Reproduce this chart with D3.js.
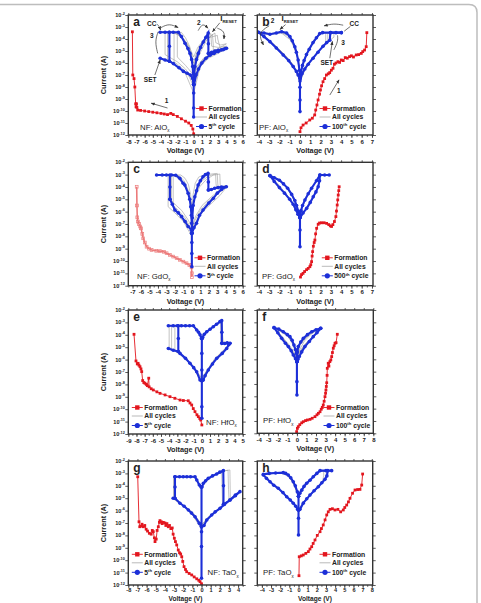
<!DOCTYPE html>
<html>
<head>
<meta charset="utf-8">
<script src="https://cdn.jsdelivr.net/npm/d3@7"></script>
<style>
  body { margin: 0; background: #fff; }
  svg text { font-family: Arial, "Liberation Sans", sans-serif; fill: #222; }
</style>
</head>
<body>
<svg id="chart" width="481" height="603"></svg>
<script>
// all currents are stored as log10(I / A), voltages in V

const yExps = [-2, -3, -4, -5, -6, -7, -8, -9, -10, -11, -12];

// ---- a : NF AlOx
const ticksA = [-8, -7, -6, -5, -4, -3, -2, -1, 0, 1, 2, 3, 4, 5, 6];
const formA = [[-7.5,-3.4],[-7.45,-7.0],[-7.3,-7.3],[-7.2,-8.0],[-7.1,-9.4],[-7.05,-9.65],[-7.0,-9.4],[-6.95,-9.7],[-6.85,-9.92],[-6.5,-9.95],[-6,-10.0],[-5.5,-10.05],[-5,-10.1],[-4.5,-10.15],[-4,-10.2],[-3.6,-10.25],[-3.2,-10.3],[-2.8,-10.2],[-2.5,-10.3],[-2,-10.45],[-1.5,-10.65],[-1,-10.85],[-0.6,-11.0],[-0.3,-11.2],[-0.1,-11.5],[0,-11.9]];
const cycleA = [
  [[0,-7.8],[-0.12,-7.3],[-0.4,-7.0],[-0.8,-6.85],[-1.26,-6.7],[-1.8,-6.4],[-2.48,-6.05],[-2.97,-5.85],[-3.5,-5.75],[-4.1,-5.6]],
  [[-2.97,-5.85],[-2.97,-4.6],[-2.97,-3.44]],
  [[-4.1,-3.44],[-3.5,-3.44],[-3.0,-3.44],[-2.5,-3.44],[-1.87,-3.44],[-1.5,-3.8],[-1.06,-4.36],[-0.7,-4.8],[-0.45,-5.2],[-0.25,-5.7],[-0.12,-6.3],[0,-7.8]],
  [[0,-7.8],[0.05,-6.9],[0.16,-6.3],[0.35,-5.7],[0.57,-5.2],[0.85,-4.7],[1.17,-4.25],[1.5,-3.85],[1.78,-3.5],[1.8,-4.4],[1.8,-5.2]],
  [[1.8,-5.2],[2.2,-5.1],[2.6,-5.0],[3.0,-4.95],[3.4,-4.9],[3.8,-4.82],[4.02,-4.78],[3.6,-4.9],[3.0,-5.05],[2.5,-5.2],[2.0,-5.35],[1.5,-5.6],[1.0,-6.0],[0.6,-6.5],[0.3,-7.0],[0.05,-7.8]],
  [[0,-7.8],[0,-8.5],[0,-9.75],[0,-10.5]]
];
const grayA = [
  [[0,-8],[-0.5,-7.2],[-1,-6.7],[-2,-6.1],[-2.4,-5.9],[-2.4,-3.45],[-4,-3.45],[-1.5,-3.45],[-1,-3.9],[-0.5,-4.6],[-0.2,-5.5],[0,-6.5],[0.2,-5.6],[0.6,-4.8],[1.2,-4.1],[2.1,-3.55],[2.2,-4.6],[3,-4.7],[4,-4.6],[3,-4.9],[2,-5.3],[1,-5.9],[0.5,-6.6],[0,-8]],
  [[0,-7.5],[-1,-6.5],[-2,-5.9],[-3.5,-5.3],[-3.5,-3.45],[-4,-3.45],[-2.5,-3.45],[-1.5,-3.8],[-0.8,-4.4],[-0.3,-5.2],[0,-6],[0.3,-5.3],[1,-4.5],[1.8,-3.9],[2.6,-3.5],[2.7,-4.3],[3.3,-4.5],[4,-4.4],[3,-4.8],[2,-5.2],[1,-5.8],[0.3,-6.6],[0,-7.5]],
  [[0,-7],[-1,-6.2],[-2,-5.5],[-2,-3.45],[-4,-3.45],[-2.8,-3.45],[-2,-3.6],[-1.2,-4.0],[-0.5,-4.7],[0,-5.5],[0.5,-4.7],[1.3,-4.0],[2.9,-3.7],[2.95,-4.0],[3.3,-4.9],[4,-4.7],[2.5,-5.1],[1.2,-5.6],[0.4,-6.3],[0,-7]],
  [[0,-8.5],[-1,-6.9],[-2,-6.3],[-3.2,-5.7],[-3.2,-3.45],[-4,-3.45],[-2.2,-3.45],[-1.3,-4.0],[-0.6,-4.9],[-0.2,-5.8],[0,-7],[0.3,-6],[0.9,-5],[1.5,-4.2],[2.3,-3.6],[2.4,-4.5],[2.4,-4.9],[3.5,-4.9],[4,-4.8],[3,-5.2],[1.8,-5.6],[0.8,-6.3],[0,-8.5]]
];
const notesA = [
  { t: "CC", at: [-5.7, -2.9] }, { t: "3", at: [-5.35, -3.95] }, { t: "SET", at: [-6.1, -7.6] },
  { t: "2", at: [0.4, -2.8] }, { t: "1", at: [-3.55, -9.3] }, { t: "I", sub: "RESET", at: [3.25, -2.5] }
];
const arrowsA = [
  { p: [[-4.5,-2.75],[-4.2,-2.95],[-4.05,-3.25]], head: true },
  { p: [[-4.0,-3.05],[-3.0,-2.7],[-1.9,-3.05]], head: true },
  { p: [[-4.35,-3.4],[-4.75,-4.2],[-4.4,-5.2]], head: false },
  { p: [[-4.75,-7.0],[-4.1,-5.75]], head: true },
  { p: [[0.55,-3.3],[1.1,-2.65],[1.75,-3.1]], head: true },
  { p: [[3.2,-2.65],[2.3,-3.4]], head: true },
  { p: [[2.9,-3.1],[3.8,-3.35],[3.7,-4.0]], head: true },
  { p: [[-3.2,-9.75],[-5.2,-9.35]], head: true }
];

// ---- b : PF AlOx
const ticksB = [-4, -3, -2, -1, 0, 1, 2, 3, 4, 5, 6, 7];
const formB = [[0,-11.72],[0.1,-11.4],[0.3,-11.17],[0.6,-11.0],[0.95,-10.75],[1.2,-10.6],[1.43,-10.33],[1.53,-9.92],[1.65,-9.5],[1.76,-9.08],[1.9,-8.6],[1.99,-8.25],[2.1,-7.9],[2.24,-7.56],[2.4,-7.3],[2.57,-7.0],[2.75,-6.9],[2.89,-6.8],[3.05,-6.6],[3.21,-6.44],[3.35,-6.1],[3.5,-6.0],[3.69,-5.89],[3.85,-5.95],[4.02,-5.75],[4.2,-5.8],[4.4,-5.55],[4.6,-5.6],[4.82,-5.47],[5.0,-5.4],[5.2,-5.5],[5.47,-5.33],[5.7,-5.3],[5.96,-5.2],[6.1,-5.05],[6.28,-4.92],[6.44,-4.64],[6.5,-3.47]];
const cycleB = [
  [[0,-7.5],[0.2,-6.9],[0.47,-6.5],[0.8,-6.1],[1.27,-5.6],[1.75,-5.1],[2.24,-4.6],[2.6,-4.3],[2.9,-4.1],[2.95,-3.47],[3.5,-3.47],[4.02,-3.47]],
  [[4.02,-3.47],[3,-3.47],[2.2,-3.47],[1.92,-3.55],[1.6,-3.9],[1.27,-4.3],[0.9,-4.85],[0.63,-5.3],[0.4,-5.8],[0.24,-6.2],[0.1,-6.8],[0,-7.3]],
  [[0,-7.1],[-0.05,-6.6],[-0.18,-5.75],[-0.35,-5.1],[-0.5,-4.64],[-0.75,-4.15],[-0.98,-3.8],[-1.3,-3.5],[-1.79,-3.39],[-2.3,-3.5],[-2.92,-3.6],[-3.5,-3.5],[-4.05,-3.44]],
  [[-4.05,-3.44],[-3.5,-3.8],[-2.92,-4.22],[-2.3,-4.75],[-1.63,-5.33],[-1.1,-5.8],[-0.66,-6.3],[-0.35,-6.7],[-0.18,-7.0],[0,-7.3]],
  [[0,-7.1],[0,-8.03],[0,-9.08],[0,-10.05]]
];
const grayB = [
  [[0,-7.2],[0.5,-6.3],[1.3,-5.5],[2.0,-4.8],[2.5,-4.4],[2.5,-3.47],[4.0,-3.47],[2.2,-3.47],[1.6,-3.85],[1.0,-4.6],[0.5,-5.5],[0.15,-6.4],[0,-7.0],[-0.2,-5.6],[-0.6,-4.5],[-1.0,-3.85],[-1.8,-3.45],[-2.8,-3.55],[-4.0,-3.45],[-3.0,-4.1],[-2.0,-4.9],[-1.0,-5.8],[-0.3,-6.7],[0,-7.2]],
  [[0,-7.4],[0.6,-6.3],[1.5,-5.3],[2.3,-4.5],[2.8,-4.15],[3.3,-3.85],[3.3,-3.47],[4.0,-3.47],[2.3,-3.47],[1.7,-3.8],[1.1,-4.5],[0.6,-5.3],[0.2,-6.3],[0,-7.1],[-0.25,-5.4],[-0.7,-4.35],[-1.2,-3.65],[-1.8,-3.42],[-2.9,-3.55],[-4.0,-3.45],[-3.2,-3.95],[-2.2,-4.7],[-1.3,-5.5],[-0.5,-6.4],[0,-7.4]],
  [[0,-7.6],[0.7,-6.1],[1.6,-5.2],[2.4,-4.55],[2.7,-4.3],[2.7,-3.47],[4.0,-3.47],[2.0,-3.5],[1.4,-4.0],[0.8,-4.9],[0.3,-5.9],[0,-7.0],[-0.3,-5.3],[-0.9,-4.1],[-1.8,-3.5],[-3.0,-3.65],[-4.0,-3.5],[-2.5,-4.5],[-1.5,-5.3],[-0.6,-6.2],[0,-7.6]]
];
const notesB = [
  { t: "2", at: [-2.85, -2.7] }, { t: "I", sub: "RESET", at: [-1.79, -2.5] }, { t: "CC", at: [4.82, -2.88] },
  { t: "3", at: [4.02, -4.5] }, { t: "SET", at: [1.99, -6.17] }, { t: "1", at: [3.6, -8.5] }
];
const arrowsB = [
  { p: [[-3.0,-2.9],[-4.1,-3.5],[-3.55,-4.5]], head: true },
  { p: [[-1.4,-2.8],[-1.95,-3.2]], head: true },
  { p: [[4.2,-2.85],[3.3,-2.7],[2.35,-2.9]], head: true },
  { p: [[4.9,-2.95],[4.3,-3.35]], head: false },
  { p: [[3.65,-3.7],[3.7,-4.2],[3.3,-4.9]], head: false },
  { p: [[2.9,-5.6],[3.15,-4.2]], head: true },
  { p: [[2.9,-8.67],[3.8,-7.4]], head: true }
];

// ---- c : NF GdOx
const ticksC = [-7, -6, -5, -4, -3, -2, -1, 0, 1, 2, 3, 4, 5, 6];
const formC = [[-6.51,-3.98],[-6.48,-5.5],[-6.44,-6.46],[-6.35,-6.8],[-6.24,-7.0],[-6.1,-7.2],[-6.0,-7.35],[-5.85,-7.8],[-5.74,-8.16],[-5.55,-8.5],[-5.34,-8.84],[-5.05,-9.0],[-4.75,-9.1],[-4.2,-9.17],[-3.77,-9.2],[-3.3,-9.25],[-2.98,-9.37],[-2.6,-9.5],[-2.2,-9.64],[-1.8,-9.77],[-1.42,-9.9],[-1.0,-10.05],[-0.63,-10.18],[-0.3,-10.32],[-0.04,-10.5],[0,-10.99],[0,-11.3]];
const cycleC = [
  [[0,-7.75],[-0.05,-7.5],[-0.44,-7.2],[-0.8,-6.8],[-1.22,-6.4],[-1.6,-6.1],[-2.0,-5.87],[-2.3,-5.4],[-2.59,-5.0]],
  [[-2.59,-5.0],[-2.59,-4.0],[-2.59,-3.03]],
  [[-4.16,-3.03],[-3.5,-3.03],[-3.0,-3.03],[-2.4,-3.03],[-1.9,-3.05],[-1.42,-3.3],[-1.03,-3.7],[-0.83,-3.84],[-0.44,-4.51],[-0.25,-5.0],[-0.13,-5.6],[-0.05,-6.3],[-0.02,-6.94],[0,-7.75]],
  [[0,-7.75],[0.05,-6.5],[0.15,-5.5],[0.35,-4.79],[0.55,-4.3],[0.74,-3.84],[1.0,-3.5],[1.32,-3.17],[1.6,-3.0],[1.91,-2.9],[1.95,-3.6],[1.95,-4.24]],
  [[1.95,-4.24],[2.3,-4.2],[2.7,-4.1],[3.1,-4.05],[3.5,-4.0],[4.07,-3.98],[3.5,-4.2],[3.0,-4.5],[2.54,-4.92],[2.0,-5.3],[1.32,-5.87],[0.9,-6.3],[0.55,-6.94],[0.25,-7.3],[0,-7.75]],
  [[0,-7.75],[0,-8.5],[0,-9.4],[0,-10.46]]
];
const grayC = [
  [[0,-7.2],[-0.5,-6.6],[-1.2,-5.9],[-2,-5.4],[-2.4,-5.1],[-2.4,-3.03],[-4.1,-3.03],[-2.2,-3.03],[-1.5,-3.1],[-0.9,-3.5],[-0.4,-4.3],[-0.1,-5.4],[0,-6.5],[0.2,-5.3],[0.6,-4.2],[1.2,-3.5],[2,-3.1],[2.8,-2.95],[2.85,-3.7],[2.9,-4.0],[3.5,-3.95],[4.1,-3.9],[3.2,-4.3],[2.3,-4.8],[1.2,-5.5],[0.5,-6.3],[0,-7.2]],
  [[0,-7.5],[-0.8,-6.5],[-1.6,-5.9],[-2.2,-5.5],[-2.2,-3.03],[-4.1,-3.03],[-2.5,-3.03],[-1.8,-3.2],[-1.2,-3.6],[-0.6,-4.2],[-0.2,-5.0],[0,-6],[0.3,-5.0],[0.9,-4.0],[1.7,-3.4],[2.5,-3.05],[3.3,-2.95],[3.35,-3.9],[3.6,-4.0],[4.1,-3.95],[3.0,-4.6],[2.0,-5.1],[1.0,-5.9],[0.3,-6.8],[0,-7.5]],
  [[0,-8],[-1,-6.8],[-2,-6.1],[-2.8,-5.6],[-2.8,-3.03],[-4.1,-3.03],[-3,-3.03],[-1.3,-3.03],[-0.8,-3.3],[-0.4,-3.8],[-0.15,-4.6],[0,-5.7],[0.15,-4.6],[0.4,-3.7],[0.8,-3.2],[1.5,-3.0],[2.3,-2.95],[3.0,-2.9],[3.05,-3.6],[3.1,-4.1],[3.6,-4.0],[4.1,-4.0],[3.3,-4.7],[2.2,-5.4],[1.0,-6.2],[0.3,-7.0],[0,-8]]
];

// ---- d : PF GdOx
const ticksD = [-4, -3, -2, -1, 0, 1, 2, 3, 4, 5, 6, 7];
const formD = [[0.05,-11.3],[0.15,-11.1],[0.3,-11.0],[0.45,-10.85],[0.64,-10.7],[0.8,-10.6],[0.96,-10.46],[1.05,-10.3],[1.13,-10.05],[1.18,-9.6],[1.23,-9.24],[1.3,-8.8],[1.38,-8.5],[1.45,-8.3],[1.52,-7.8],[1.62,-7.35],[1.77,-7.02],[1.9,-6.92],[2.1,-6.9],[2.35,-6.9],[2.59,-6.95],[2.8,-7.05],[2.95,-7.15],[3.07,-7.2],[3.2,-7.05],[3.35,-6.8],[3.49,-6.4],[3.55,-5.95],[3.62,-5.46],[3.67,-5.05],[3.72,-4.65],[3.77,-4.3],[3.81,-3.98]];
const cycleD = [
  [[2.84,-3.03],[2.4,-3.03],[1.94,-3.03],[1.6,-3.5],[1.13,-4.1],[0.8,-4.55],[0.48,-5.05],[0.25,-5.5],[0.1,-5.9],[0,-6.45]],
  [[0,-6.5],[0.3,-6.1],[0.65,-5.73],[1.0,-5.25],[1.29,-4.79],[1.55,-4.4],[1.77,-3.98],[1.9,-3.5],[1.94,-3.03]],
  [[-2.92,-3.08],[-2.5,-3.25],[-2.0,-3.45],[-1.6,-3.75],[-1.2,-4.1],[-0.81,-4.6],[-0.5,-5.1],[-0.33,-5.5],[-0.15,-6.0],[0,-6.45]],
  [[-2.92,-3.08],[-2.5,-3.55],[-2.0,-4.05],[-1.5,-4.5],[-1.0,-5.0],[-0.66,-5.4],[-0.4,-5.85],[-0.2,-6.2],[0,-6.5]],
  [[0,-6.45],[0,-7.49],[0,-8.84]]
];
const grayD = [
  [[0,-6.5],[0.6,-5.8],[1.2,-5.0],[1.6,-4.3],[1.9,-3.4],[1.95,-3.03],[2.84,-3.03],[1.9,-3.1],[1.2,-4.0],[0.6,-4.9],[0.2,-5.7],[0,-6.4],[-0.3,-5.6],[-0.8,-4.7],[-1.5,-3.8],[-2.2,-3.3],[-2.9,-3.1],[-2.2,-3.7],[-1.4,-4.5],[-0.7,-5.3],[-0.25,-6.0],[0,-6.5]]
];

// ---- e : NF HfOx
const ticksE = [-9, -8, -7, -6, -5, -4, -3, -2, -1, 0, 1, 2, 3, 4, 5];
const formE = [[-8.3,-3.96],[-8.06,-6.11],[-7.9,-6.35],[-7.8,-6.3],[-7.7,-6.45],[-7.57,-6.57],[-7.45,-6.75],[-7.36,-6.97],[-7.24,-7.69],[-7.1,-7.85],[-6.96,-7.91],[-6.8,-8.0],[-6.67,-8.1],[-6.5,-7.5],[-6.45,-8.2],[-6.2,-8.35],[-5.94,-8.45],[-5.5,-8.6],[-5.12,-8.72],[-4.5,-8.85],[-3.9,-8.99],[-3.3,-9.12],[-2.67,-9.26],[-2.26,-9.3],[-1.66,-9.32],[-1.45,-9.5],[-1.24,-9.66],[-1.05,-9.95],[-0.84,-10.2],[-0.6,-10.45],[-0.43,-10.6],[-0.25,-10.75],[-0.14,-10.87],[0,-11.27]];
const cycleE = [
  [[0,-7.7],[-0.22,-7.65],[-0.63,-6.98],[-1.0,-6.65],[-1.45,-6.3],[-2.0,-5.9],[-2.67,-5.5],[-2.88,-5.35],[-3.5,-5.25],[-4.1,-5.1]],
  [[-2.88,-5.35],[-2.88,-4.3],[-2.88,-3.27]],
  [[-4.1,-3.27],[-3.5,-3.27],[-3,-3.27],[-2.5,-3.27],[-2,-3.27],[-1.5,-3.27],[-1.04,-3.27],[-0.63,-3.61],[-0.4,-3.8],[-0.22,-4.0],[-0.05,-4.29]],
  [[0.05,-4.29],[0.1,-4.2],[0.3,-3.95],[0.6,-3.75],[1.0,-3.55],[1.4,-3.35],[1.8,-3.15],[2.22,-2.94],[2.43,-2.86],[2.45,-3.8],[2.45,-4.69]],
  [[2.45,-4.69],[2.8,-4.7],[3.1,-4.65],[3.45,-4.69],[3.3,-4.8],[3.04,-5.1],[2.5,-5.5],[1.82,-5.9],[1.3,-6.35],[0.79,-6.84],[0.4,-7.3],[0.18,-7.65],[0,-7.7]],
  [[0,-4.29],[0,-5.5],[0,-6.84],[0,-7.7],[0,-9.8],[0,-10.73]]
];
const grayE = [
  [[0,-7.5],[-1,-6.6],[-2,-5.85],[-3.3,-5.2],[-3.3,-3.27],[-4.1,-3.27],[-1.1,-3.27],[-0.6,-3.6],[-0.2,-4.0],[0,-4.3],[0.4,-3.9],[1.2,-3.45],[2.0,-3.05],[2.3,-2.95],[2.35,-4.7],[3.0,-4.75],[3.5,-4.7],[2.8,-5.2],[1.8,-5.85],[0.8,-6.7],[0,-7.5]],
  [[0,-7.8],[-1,-6.7],[-2.2,-5.8],[-3.7,-5.15],[-3.7,-3.27],[-4.1,-3.27],[-1.0,-3.27],[-0.5,-3.7],[-0.1,-4.2],[0,-4.3],[0.5,-3.85],[1.5,-3.3],[2.4,-2.9],[2.5,-3.7],[2.6,-4.6],[3.3,-4.65],[3.6,-4.7],[3.0,-5.05],[2.0,-5.7],[1.0,-6.5],[0.3,-7.3],[0,-7.8]],
  [[0,-7.6],[-1.2,-6.4],[-2.3,-5.7],[-4.0,-5.0],[-4.0,-3.27],[-4.1,-3.27],[-1.05,-3.27],[-0.5,-3.7],[0,-4.3],[0.6,-3.8],[1.6,-3.25],[2.5,-2.9],[2.55,-4.6],[3.5,-4.6],[3.0,-5.0],[1.5,-6.0],[0.5,-7.0],[0,-7.6]]
];

// ---- f : PF HfOx
const ticksF = [-4, -3, -2, -1, 0, 1, 2, 3, 4, 5, 6, 7, 8];
const formF = [[-0.03,-11.87],[0.05,-11.6],[0.14,-11.46],[0.3,-11.3],[0.5,-11.15],[0.67,-11.06],[0.9,-10.97],[1.1,-10.92],[1.37,-10.87],[1.6,-10.78],[1.89,-10.65],[2.1,-10.5],[2.25,-10.38],[2.42,-10.25],[2.55,-10.05],[2.66,-9.9],[2.76,-9.7],[2.85,-9.4],[2.94,-9.03],[3.0,-8.75],[3.04,-8.49],[3.08,-8.2],[3.12,-7.9],[3.16,-7.3],[3.18,-6.73],[3.28,-6.32],[3.35,-6.55],[3.45,-6.19],[3.55,-6.05],[3.64,-5.78],[3.72,-5.45],[3.81,-5.1],[3.9,-4.9],[3.99,-4.7],[4.1,-4.65],[4.23,-3.97]];
const cycleF = [
  [[-2.4,-3.43],[-1.9,-3.55],[-1.43,-3.76],[-1.0,-4.0],[-0.73,-4.16],[-0.5,-4.45],[-0.31,-4.84],[-0.15,-5.2],[-0.05,-5.51],[0,-6.19]],
  [[-2.4,-3.43],[-2.0,-3.85],[-1.6,-4.3],[-1.2,-4.7],[-0.9,-4.97],[-0.6,-5.3],[-0.38,-5.65],[-0.15,-5.95],[0,-6.19]],
  [[2.49,-3.49],[2.0,-3.6],[1.55,-3.76],[1.1,-4.0],[0.67,-4.3],[0.4,-4.6],[0.14,-4.97],[0.05,-5.4],[0,-6.19]],
  [[2.49,-3.49],[2.1,-3.85],[1.71,-4.16],[1.3,-4.55],[0.84,-4.97],[0.5,-5.4],[0.25,-5.78],[0.1,-6.0],[0,-6.19]],
  [[0,-6.19],[0,-7.81],[0,-8.89]]
];
const grayF = [
  [[0,-6.0],[-0.2,-5.3],[-0.6,-4.5],[-1.1,-4.0],[-1.7,-3.7],[-2.3,-3.45],[-1.9,-3.85],[-1.3,-4.45],[-0.7,-5.05],[-0.3,-5.55],[0,-6.0],[0.3,-5.2],[0.8,-4.5],[1.5,-3.95],[2.4,-3.5],[2.0,-3.85],[1.3,-4.4],[0.7,-4.9],[0.3,-5.5],[0,-6.0]],
  [[0,-6.1],[-0.25,-5.0],[-0.7,-4.3],[-1.3,-3.9],[-2.2,-3.5],[-1.7,-4.1],[-1.0,-4.8],[-0.5,-5.3],[0,-6.1],[0.2,-5.0],[0.7,-4.4],[1.4,-3.9],[2.3,-3.55],[1.8,-4.05],[1.1,-4.6],[0.5,-5.2],[0,-6.1]],
  [[0,-5.9],[-0.3,-4.9],[-0.9,-4.2],[-1.6,-3.8],[-2.35,-3.45],[-1.5,-4.2],[-0.8,-4.85],[-0.3,-5.4],[0,-5.9],[0.35,-4.8],[1.0,-4.2],[1.8,-3.75],[2.45,-3.5],[1.6,-4.2],[0.9,-4.75],[0.35,-5.3],[0,-5.9]]
];

// ---- g : NF TaOx
const ticksG = [-8, -7, -6, -5, -4, -3, -2, -1, 0, 1, 2, 3, 4];
const formG = [[-6.97,-3.27],[-6.83,-6.9],[-6.75,-7.3],[-6.6,-7.25],[-6.5,-7.1],[-6.35,-7.3],[-6.2,-7.2],[-6.05,-7.5],[-5.9,-7.65],[-5.7,-7.83],[-5.5,-7.9],[-5.38,-7.6],[-5.27,-7.7],[-5.15,-8.2],[-5.08,-8.5],[-4.95,-8.3],[-4.85,-7.6],[-4.72,-7.3],[-4.6,-6.95],[-4.54,-6.81],[-4.4,-6.9],[-4.3,-7.05],[-4.17,-6.95],[-4.0,-7.0],[-3.9,-7.2],[-3.78,-7.05],[-3.63,-7.3],[-3.5,-7.2],[-3.35,-7.45],[-3.2,-7.4],[-3.1,-7.9],[-2.97,-8.23],[-2.85,-8.5],[-2.71,-8.77],[-2.54,-9.18],[-2.4,-9.4],[-2.28,-9.5],[-2.16,-9.72],[-2.05,-10.1],[-1.91,-10.52],[-1.75,-10.75],[-1.62,-10.93],[-1.35,-11.07],[-1.07,-11.19],[-0.8,-11.35],[-0.52,-11.5],[-0.3,-11.62],[-0.16,-11.73],[0,-11.9]];
const cycleG = [
  [[0,-7.3],[-0.24,-7.03],[-0.71,-6.49],[-1.1,-6.2],[-1.44,-5.95],[-1.9,-5.65],[-2.35,-5.41],[-2.9,-5.0],[-3.1,-5.0]],
  [[-2.9,-5.0],[-2.9,-4.1],[-2.9,-3.27]],
  [[-2.9,-3.27],[-2.4,-3.27],[-2,-3.27],[-1.6,-3.27],[-1.2,-3.27],[-0.71,-3.27],[-0.52,-3.53],[-0.24,-3.94],[-0.05,-4.1]],
  [[0.05,-4.1],[0.2,-3.8],[0.45,-3.6],[0.74,-3.4],[1.2,-3.2],[1.66,-3.05],[2.0,-2.9],[2.38,-2.78],[2.4,-4.0],[2.4,-5.5]],
  [[2.4,-5.5],[3.11,-5.15],[3.7,-4.75],[4.2,-4.47],[3.7,-4.8],[3.11,-5.15],[2.5,-5.5],[2.02,-5.82],[1.5,-6.1],[1.11,-6.35],[0.57,-6.76],[0.27,-7.2],[0,-7.3]],
  [[0,-4.1],[0,-7.3],[0,-7.7],[0,-8.9],[0,-11.45]]
];
const grayG = [
  [[0,-7.1],[-1,-6.1],[-2,-5.6],[-3,-5.1],[-3,-3.27],[-0.75,-3.27],[-0.4,-3.7],[0,-4.1],[0.5,-3.6],[1.5,-3.1],[2.5,-2.8],[2.9,-2.75],[2.95,-4.3],[3.0,-5.1],[3.6,-4.8],[4.2,-4.45],[3.3,-5.05],[2.2,-5.7],[1.2,-6.3],[0.4,-6.9],[0,-7.1]],
  [[0,-7.5],[-1.2,-6.1],[-2.3,-5.45],[-2.95,-5.1],[-2.95,-3.27],[-0.7,-3.27],[-0.3,-3.8],[0,-4.1],[0.6,-3.55],[1.6,-3.05],[2.6,-2.78],[3.1,-2.72],[3.15,-5.0],[4.2,-4.5],[3.0,-5.2],[1.8,-5.95],[0.8,-6.5],[0,-7.5]],
  [[0,-7.2],[-1.4,-5.9],[-2.5,-5.3],[-3.05,-5.0],[-3.05,-3.27],[-0.72,-3.27],[-0.3,-3.8],[0,-4.1],[0.7,-3.5],[1.8,-3.0],[2.2,-2.85],[2.25,-4.0],[2.3,-5.6],[3.2,-5.1],[4.1,-4.55],[2.8,-5.35],[1.5,-6.1],[0.6,-6.6],[0,-7.2]]
];

// ---- h : PF TaOx
const ticksH = [-4, -3, -2, -1, 0, 1, 2, 3, 4, 5, 6, 7, 8];
const formH = [[0.05,-11.25],[0.08,-9.72],[0.3,-9.65],[0.52,-9.58],[0.8,-9.45],[1.07,-9.31],[1.25,-9.1],[1.44,-8.91],[1.6,-8.65],[1.8,-8.37],[2.05,-8.0],[2.35,-7.7],[2.5,-7.45],[2.7,-7.16],[2.9,-6.75],[3.08,-6.35],[3.25,-6.1],[3.44,-5.9],[3.7,-5.85],[3.98,-5.95],[4.3,-5.9],[4.6,-6.1],[4.89,-5.95],[5.05,-5.75],[5.26,-5.55],[5.45,-5.3],[5.62,-5.01],[5.9,-4.6],[6.17,-4.34],[6.45,-4.3],[6.71,-4.29],[6.9,-3.94],[7.0,-3.05]];
const cycleH = [
  [[-3.84,-3.08],[-3.2,-3.0],[-2.5,-2.97],[-1.66,-2.94],[-1.4,-3.0],[-1.12,-3.13],[-0.85,-3.35],[-0.57,-3.67],[-0.35,-4.0],[-0.13,-4.48],[0,-4.85]],
  [[-3.84,-3.12],[-3.5,-3.4],[-3.11,-3.67],[-2.7,-3.95],[-2.21,-4.2],[-1.7,-4.55],[-1.29,-4.88],[-0.9,-5.15],[-0.57,-5.41],[-0.3,-5.65],[-0.1,-5.9],[0,-5.95]],
  [[3.62,-2.78],[3.0,-2.78],[2.35,-2.78],[2.0,-3.0],[1.61,-3.27],[1.25,-3.55],[0.89,-3.8],[0.6,-4.05],[0.35,-4.35],[0.15,-4.6],[0,-4.85]],
  [[0,-5.95],[0.16,-5.9],[0.52,-5.4],[0.9,-5.05],[1.25,-4.75],[1.7,-4.4],[2.16,-4.08],[2.55,-3.75],[2.89,-3.48],[3.1,-3.2],[3.2,-2.78]],
  [[0,-4.85],[0,-5.95],[0,-6.62],[0,-7.97]]
];
const grayH = [
  [[0,-5.9],[0.5,-5.35],[1.2,-4.8],[2.0,-4.2],[2.6,-3.7],[2.75,-3.2],[2.75,-2.78],[3.6,-2.78],[2.4,-2.8],[1.6,-3.3],[0.9,-3.85],[0.3,-4.45],[0,-4.8],[-0.4,-4.0],[-0.9,-3.4],[-1.6,-2.97],[-2.6,-2.98],[-3.8,-3.1],[-3.0,-3.75],[-2.0,-4.35],[-1.0,-5.05],[-0.3,-5.6],[0,-5.9]],
  [[0,-6.0],[0.6,-5.3],[1.4,-4.65],[2.2,-4.05],[2.9,-3.5],[3.05,-3.1],[3.05,-2.78],[3.6,-2.78],[2.3,-2.85],[1.5,-3.4],[0.8,-3.95],[0.25,-4.5],[0,-4.9],[-0.5,-3.9],[-1.1,-3.2],[-2.0,-2.95],[-3.8,-3.05],[-3.2,-3.6],[-2.2,-4.25],[-1.2,-4.95],[-0.4,-5.55],[0,-6.0]],
  [[0,-5.95],[0.7,-5.2],[1.6,-4.5],[2.4,-3.9],[2.95,-3.45],[3.1,-2.78],[3.6,-2.78],[2.35,-2.8],[1.7,-3.2],[1.0,-3.7],[0.4,-4.3],[0,-4.85],[-0.3,-4.3],[-0.7,-3.6],[-1.3,-3.1],[-2.2,-2.95],[-3.8,-3.1],[-2.9,-3.8],[-1.8,-4.5],[-0.8,-5.2],[-0.2,-5.8],[0,-5.95]]
];

const legendNames = ["Formation", "All cycles", "cycle"];

// ---- layout (pixels)
const L = [128.3, 242.7], R = [257.3, 373];
const rows = [[15, 135], [162.3, 285.7], [310, 434], [461, 585]];

const panels = [
  { id: "a", xs: L, ys: rows[0], xDom: [-8, 6],       ticks: ticksA, form: formA, cycle: cycleA, gray: grayA, n: "5",   mat: "NF: AlO",  matAt: [140, 129.5], leg: [201.5, 108.5], yLab: true,  notes: notesA, arrows: arrowsA },
  { id: "b", xs: R, ys: rows[0], xDom: [-4.15, 7.1],  ticks: ticksB, form: formB, cycle: cycleB, gray: grayB, n: "100", mat: "PF: AlO",  matAt: [259, 129.5], leg: [325, 108.5],   yLab: false, notes: notesB, arrows: arrowsB },
  { id: "c", xs: L, ys: rows[1], xDom: [-7.5, 6],     ticks: ticksC, form: formC, cycle: cycleC, gray: grayC, n: "5",   mat: "NF: GdO",  matAt: [137, 278.5], leg: [200, 257.8],   yLab: true,  light: true },
  { id: "d", xs: R, ys: rows[1], xDom: [-4.15, 7.1],  ticks: ticksD, form: formD, cycle: cycleD, gray: grayD, n: "500", mat: "PF: GdO",  matAt: [262, 278.5], leg: [327.3, 257.8], yLab: false },
  { id: "e", xs: L, ys: rows[2], xDom: [-9, 5],       ticks: ticksE, form: formE, cycle: cycleE, gray: grayE, n: "5",   mat: "NF: HfO",  matAt: [206, 424.5], leg: [137.3, 407.5], yLab: true },
  { id: "f", xs: [257.3, 373.3], ys: [310, 433.3], xDom: [-4.15, 8], ticks: ticksF, form: formF, cycle: cycleF, gray: grayF, n: "100", mat: "PF: HfO", matAt: [263, 423], leg: [329, 407.5], yLab: false },
  { id: "g", xs: L, ys: rows[3], xDom: [-8, 4.5],     ticks: ticksG, form: formG, cycle: cycleG, gray: grayG, n: "5",   mat: "NF: TaO",  matAt: [207.5, 575], leg: [137.3, 554.3], yLab: true,  last: true },
  { id: "h", xs: [257.3, 372.7], ys: rows[3], xDom: [-4.5, 8.1], ticks: ticksH, form: formH, cycle: cycleH, gray: grayH, n: "100", mat: "PF: TaO", matAt: [263, 575], leg: [325, 554.3], yLab: false, last: true }
];

const BLUE = "#1c2fd8", RED = "#e3161e", GRAY = "#9c9c9c", INK = "#333";

const svg = d3.select("#chart");
const defs = svg.append("defs");
defs.append("marker").attr("id", "arr").attr("viewBox", "0 0 10 10")
  .attr("refX", 9).attr("refY", 5).attr("markerUnits", "userSpaceOnUse")
  .attr("markerWidth", 4).attr("markerHeight", 4).attr("orient", "auto")
  .append("path").attr("d", "M0,1L10,5L0,9z").attr("fill", INK);

// page frame
svg.append("path").attr("d", "M0,4.5H469Q477,4.5 477,12.5V603")
  .attr("fill", "none").attr("stroke", "#bdbdbd").attr("stroke-width", 1.5);

function drawPanel(p) {
  const x = d3.scaleLinear().domain(p.xDom).range(p.xs);
  const y = d3.scaleLog().domain([1e-12, 1e-2]).range([p.ys[1], p.ys[0]]);
  const line = d3.line().x(d => x(d[0])).y(d => y(10 ** d[1]));
  const g = svg.append("g");

  defs.append("clipPath").attr("id", "clip_" + p.id).append("rect")
    .attr("x", p.xs[0]).attr("y", p.ys[0]).attr("width", p.xs[1] - p.xs[0]).attr("height", p.ys[1] - p.ys[0]);
  const plot = g.append("g").attr("clip-path", `url(#clip_${p.id})`);

  plot.append("g").selectAll("path").data(p.gray).join("path")
    .attr("d", line).attr("fill", "none").attr("stroke", GRAY).attr("stroke-width", 0.6);

  const fc = p.light ? "#ec7a7a" : RED;
  plot.append("path").attr("d", line(p.form)).attr("fill", "none")
    .attr("stroke", fc).attr("stroke-width", p.light ? 1.6 : 0.9);
  plot.append("g").selectAll("rect").data(p.form).join("rect")
    .attr("x", d => x(d[0]) - 1.4).attr("y", d => y(10 ** d[1]) - 1.4)
    .attr("width", 2.8).attr("height", 2.8)
    .attr("fill", p.light ? "none" : RED).attr("stroke", p.light ? fc : "none").attr("stroke-width", 0.7);

  plot.append("g").selectAll("path").data(p.cycle).join("path")
    .attr("d", line).attr("fill", "none").attr("stroke", BLUE).attr("stroke-width", 2.1);
  plot.append("g").selectAll("circle").data(p.cycle.flat()).join("circle")
    .attr("cx", d => x(d[0])).attr("cy", d => y(10 ** d[1])).attr("r", 1.8).attr("fill", BLUE);

  // axes
  const yVals = yExps.map(e => 10 ** e);
  const half = d3.range(Math.ceil(p.xDom[0] * 2) / 2, p.xDom[1] + 0.01, 0.5);
  const tickStyle = s => { s.select(".domain").remove(); s.selectAll("line").attr("stroke", INK).attr("stroke-width", 0.8); };
  g.append("g").attr("transform", `translate(0,${p.ys[1]})`)
    .call(d3.axisBottom(x).tickValues(half).tickSize(1.8).tickFormat("")).call(tickStyle);
  g.append("g").attr("transform", `translate(0,${p.ys[1]})`)
    .call(d3.axisBottom(x).tickValues(p.ticks).tickSize(3).tickPadding(p.last ? 0.5 : 1.5).tickFormat(d => String(d)))
    .call(tickStyle)
    .selectAll("text").attr("font-size", p.last ? 5.6 : 6).attr("font-weight", "bold").attr("fill", "#222");
  g.append("g").attr("transform", `translate(0,${p.ys[0]})`)
    .call(d3.axisTop(x).tickValues(p.ticks).tickSize(2).tickFormat("")).call(tickStyle);
  g.append("g").attr("transform", `translate(${p.xs[0]},0)`)
    .call(d3.axisLeft(y).tickValues(yVals).tickSize(3).tickFormat("")).call(tickStyle);
  g.append("g").attr("transform", `translate(${p.xs[1]},0)`)
    .call(d3.axisRight(y).tickValues(yVals).tickSize(3).tickFormat("")).call(tickStyle);

  g.append("rect").attr("x", p.xs[0]).attr("y", p.ys[0])
    .attr("width", p.xs[1] - p.xs[0]).attr("height", p.ys[1] - p.ys[0])
    .attr("fill", "none").attr("stroke", INK).attr("stroke-width", 1.4);

  if (p.yLab) {
    const t = g.append("g").selectAll("text").data(yExps).join("text")
      .attr("x", p.xs[0] - 3.5).attr("y", e => y(10 ** e) + 2)
      .attr("text-anchor", "end").attr("font-size", 5.6).attr("font-weight", "bold");
    t.append("tspan").text("10");
    t.append("tspan").attr("dy", -2.4).attr("font-size", 3.8).text(e => e);
    const cy = (p.ys[0] + p.ys[1]) / 2;
    g.append("text").attr("transform", `translate(105.5,${cy}) rotate(-90)`)
      .attr("text-anchor", "middle").attr("font-size", 7.3).attr("font-weight", "bold").text("Current (A)");
  }
  // bottom row sits at the page edge: tighter spacing so its axis title stays inside
  g.append("text").attr("x", (p.xs[0] + p.xs[1]) / 2).attr("y", p.last ? 601.2 : p.ys[1] + 18)
    .attr("text-anchor", "middle").attr("font-size", p.last ? 6.6 : 7.3).attr("font-weight", "bold").text("Voltage (V)");

  // panel letter and material label
  g.append("text").attr("x", p.xs[0] + 5).attr("y", p.ys[0] + 11)
    .attr("font-size", 12).attr("font-weight", "bold").text(p.id);
  const m = g.append("text").attr("x", p.matAt[0]).attr("y", p.matAt[1]).attr("font-size", 7.8);
  m.append("tspan").text(p.mat);
  m.append("tspan").attr("dy", 2.5).attr("font-size", 4.5).text("x");

  // legend
  const [lx, ly] = p.leg;
  const lg = g.append("g").attr("font-size", 6.8).attr("font-weight", "bold");
  const rowsY = [ly, ly + 8.5, ly + 18];
  lg.append("line").attr("x1", lx - 5.5).attr("x2", lx + 5.5).attr("y1", rowsY[0]).attr("y2", rowsY[0]).attr("stroke", RED).attr("stroke-width", 0.9);
  lg.append("rect").attr("x", lx - 2.2).attr("y", rowsY[0] - 2.2).attr("width", 4.4).attr("height", 4.4).attr("fill", RED);
  lg.append("line").attr("x1", lx - 5.5).attr("x2", lx + 5.5).attr("y1", rowsY[1]).attr("y2", rowsY[1]).attr("stroke", GRAY).attr("stroke-width", 0.7);
  lg.append("line").attr("x1", lx - 5.5).attr("x2", lx + 5.5).attr("y1", rowsY[2]).attr("y2", rowsY[2]).attr("stroke", BLUE).attr("stroke-width", 1);
  lg.append("circle").attr("cx", lx).attr("cy", rowsY[2]).attr("r", 2.6).attr("fill", BLUE);
  lg.append("text").attr("x", lx + 7).attr("y", rowsY[0] + 2.4).text(legendNames[0]);
  lg.append("text").attr("x", lx + 7).attr("y", rowsY[1] + 2.4).text(legendNames[1]);
  const c3 = lg.append("text").attr("x", lx + 7).attr("y", rowsY[2] + 2.4);
  c3.append("tspan").text(p.n);
  c3.append("tspan").attr("dy", -2.5).attr("font-size", 4.2).text("th");
  c3.append("tspan").attr("dy", 2.5).text(" " + legendNames[2]);

  // annotations
  if (p.notes) {
    const curve = d3.line().x(d => x(d[0])).y(d => y(10 ** d[1])).curve(d3.curveBasis);
    g.append("g").selectAll("path").data(p.arrows).join("path")
      .attr("d", d => curve(d.p)).attr("fill", "none").attr("stroke", INK).attr("stroke-width", 0.7)
      .attr("marker-end", d => d.head ? "url(#arr)" : null);
    p.notes.forEach(n => {
      const t = g.append("text").attr("x", x(n.at[0])).attr("y", y(10 ** n.at[1]))
        .attr("font-size", n.sub ? 8 : 6.5).attr("font-weight", "bold");
      t.append("tspan").text(n.t);
      if (n.sub) t.append("tspan").attr("dy", 2).attr("font-size", 4.3).text(n.sub);
    });
  }
}

panels.forEach(drawPanel);
</script>
</body>
</html>
